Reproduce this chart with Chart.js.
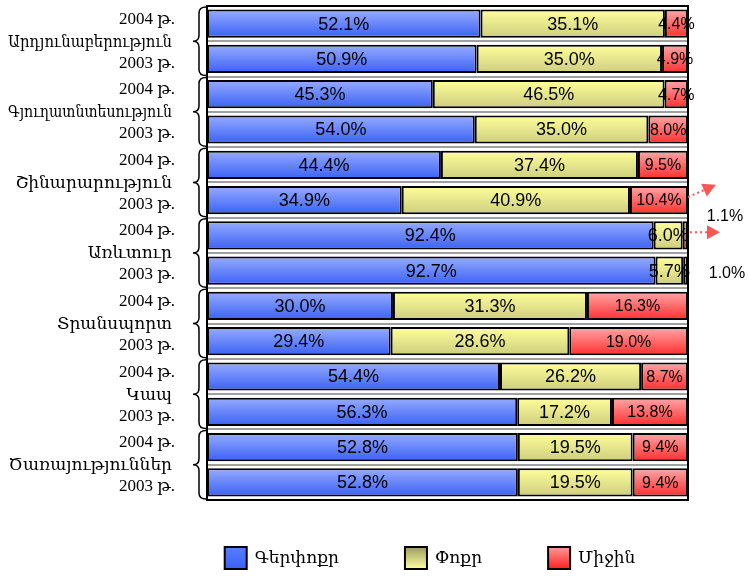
<!DOCTYPE html>
<html><head><meta charset="utf-8">
<script src="https://cdn.jsdelivr.net/npm/chart.js@4/dist/chart.umd.min.js"></script>
<style>html,body{margin:0;padding:0;background:#fff}#wrap{width:748px;height:576px;position:relative}</style>
</head><body><div id="wrap"><canvas id="c" width="748" height="576"></canvas></div>
<script>
// ---- data ----
const groups = ["Արդյունաբերություն", "Գյուղատնտեսություն", "Շինարարություն", "Առևտուր", "Տրանսպորտ", "Կապ", "Ծառայություններ"];
const years = ["2004 թ.", "2003 թ."];
const seriesNames = ["Գերփոքր", "Փոքր", "Միջին"];
const large  = [52.1, 50.9, 45.3, 54.0, 44.4, 34.9, 92.4, 92.7, 30.0, 29.4, 54.4, 56.3, 52.8, 52.8];
const small  = [35.1, 35.0, 46.5, 35.0, 37.4, 40.9, 6.0, 5.7, 31.3, 28.6, 26.2, 17.2, 19.5, 19.5];
const medium = [4.4, 4.9, 4.7, 8.0, 9.5, 10.4, 1.1, 1.0, 16.3, 19.0, 8.7, 13.8, 9.4, 9.4];
// rows whose tiny medium share is labelled outside the bar
const outsideRows = [6, 7];

const rowLabels = groups.flatMap(g => years.map(y => g + " " + y));
const totals = large.map((v, i) => v + small[i] + medium[i]);
const share = arr => arr.map((v, i) => v / totals[i] * 100);
const rawSeries = [large, small, medium];

const BAR_PCT = 0.8;
function grad(top, bottom) {
  return (ctx) => {
    const chart = ctx.chart, y = chart.scales.y;
    if (!y || ctx.type !== 'data' || !chart.chartArea) return bottom;
    const c = y.getPixelForValue(ctx.dataIndex);
    const h = (y.height / rowLabels.length) * BAR_PCT / 2;
    const g = chart.ctx.createLinearGradient(0, c - h, 0, c + h);
    g.addColorStop(0, top); g.addColorStop(1, bottom);
    return g;
  };
}
const palette = [
  ["#97acff", "#3a61f4"],
  ["#ffff9c", "#cdcd7e"],
  ["#ffa8a8", "#ff2e2e"]
];
const labelFonts = [18, 18, 16];
const SERIF = '"Liberation Serif", "DejaVu Serif", "Times New Roman", serif';

const decor = {
  id: 'decor',
  afterDatasetsDraw(chart) {
    const ctx = chart.ctx, ca = chart.chartArea, ys = chart.scales.y;
    const step = ys.height / rowLabels.length;
    ctx.save();
    // frame
    ctx.strokeStyle = '#000'; ctx.lineWidth = 2;
    ctx.strokeRect(ca.left, ca.top, ca.right - ca.left, ca.bottom - ca.top);
    // value labels
    ctx.fillStyle = '#000'; ctx.textAlign = 'center'; ctx.textBaseline = 'middle';
    chart.data.datasets.forEach((ds, di) => {
      const meta = chart.getDatasetMeta(di);
      ctx.font = labelFonts[di] + 'px "Liberation Sans", Arial, sans-serif';
      meta.data.forEach((el, i) => {
        const txt = rawSeries[di][i].toFixed(1) + '%';
        if (di === 2 && outsideRows.includes(i)) return;
        ctx.fillText(txt, (el.x + el.base) / 2, el.y + 1);
      });
    });
    // outside labels for tiny shares
    ctx.font = '16px "Liberation Sans", Arial, sans-serif';
    ctx.fillText(medium[outsideRows[0]].toFixed(1) + '%', ca.right + 37, ys.getPixelForValue(outsideRows[0]) - 19);
    ctx.fillText(medium[outsideRows[1]].toFixed(1) + '%', ca.right + 39, ys.getPixelForValue(outsideRows[1]) + 3);
    // dotted arrows
    function arrow(x1, y1, x2, y2) {
      ctx.strokeStyle = '#ff5555'; ctx.fillStyle = '#ff5555'; ctx.lineWidth = 2;
      ctx.setLineDash([2, 3]);
      ctx.beginPath(); ctx.moveTo(x1, y1); ctx.lineTo(x2, y2); ctx.stroke();
      ctx.setLineDash([]);
      const a = Math.atan2(y2 - y1, x2 - x1), L = 13, W = 7;
      ctx.beginPath();
      ctx.moveTo(x2 + Math.cos(a) * L, y2 + Math.sin(a) * L);
      ctx.lineTo(x2 - Math.sin(a) * W, y2 + Math.cos(a) * W);
      ctx.lineTo(x2 + Math.sin(a) * W, y2 - Math.cos(a) * W);
      ctx.closePath(); ctx.fill();
    }
    const yA = ys.getPixelForValue(outsideRows[0] - 1), yB = ys.getPixelForValue(outsideRows[0]);
    arrow(ca.right, yA - 3, ca.right + 16, yA - 10);
    arrow(ca.right + 2, yB - 3, ca.right + 19, yB - 3);
    // left labels + braces
    ctx.fillStyle = '#000'; ctx.strokeStyle = '#000'; ctx.lineWidth = 1.5;
    ctx.textAlign = 'right';
    ctx.font = '17px ' + SERIF;
    groups.forEach((g, gi) => {
      const p0 = ys.getPixelForValue(gi * 2), p1 = ys.getPixelForValue(gi * 2 + 1);
      const mid = (p0 + p1) / 2;
      ctx.fillText(years[0], 175, mid - 22);
      ctx.fillText(years[1], 175, mid + 22);
      ctx.fillText(g, 172, mid + 1, 164);
      const top = p0 - step / 2 + 1, bot = p1 + step / 2 - 1;
      const xr = ca.left - 1, xv = ca.left - 8, xt = ca.left - 14, r = 6;
      ctx.beginPath();
      ctx.moveTo(xr, top);
      ctx.quadraticCurveTo(xv, top, xv, top + r);
      ctx.lineTo(xv, mid - r);
      ctx.quadraticCurveTo(xv, mid, xt, mid);
      ctx.quadraticCurveTo(xv, mid, xv, mid + r);
      ctx.lineTo(xv, bot - r);
      ctx.quadraticCurveTo(xv, bot, xr, bot);
      ctx.stroke();
    });
    // legend
    ctx.font = '17px ' + SERIF;
    ctx.textAlign = 'left';
    const box = 22, gapIn = 8, gapOut = 66;
    const widths = seriesNames.map(n => box + gapIn + ctx.measureText(n).width);
    const total = widths.reduce((a, b) => a + b, 0) + gapOut * (widths.length - 1);
    let x = 430 - total / 2;
    const ly = 558;
    seriesNames.forEach((n, i) => {
      const gr = ctx.createLinearGradient(0, ly - box / 2, 0, ly + box / 2);
      const cols = i === 1 ? ["#9c9c5c", "#ffffa4"] : (i === 0 ? ["#5a7dff", "#3a61f4"] : ["#ff9a9a", "#ff1e1e"]);
      gr.addColorStop(0, cols[0]); gr.addColorStop(1, cols[1]);
      ctx.fillStyle = gr; ctx.fillRect(x, ly - box / 2, box, box);
      ctx.strokeStyle = '#000'; ctx.lineWidth = 2; ctx.strokeRect(x, ly - box / 2, box, box);
      ctx.fillStyle = '#000';
      ctx.fillText(n, x + box + gapIn, ly + 1);
      x += widths[i] + gapOut;
    });
    ctx.restore();
  }
};

new Chart(document.getElementById('c'), {
  type: 'bar',
  data: {
    labels: rowLabels,
    datasets: [large, small, medium].map((arr, i) => ({
      label: seriesNames[i],
      data: share(arr),
      backgroundColor: grad(palette[i][0], palette[i][1]),
      borderColor: '#000',
      borderWidth: 2,
      borderSkipped: false,
      categoryPercentage: 1,
      barPercentage: BAR_PCT
    }))
  },
  options: {
    indexAxis: 'y',
    responsive: false,
    animation: false,
    layout: { padding: { left: 207, right: 60, top: 6, bottom: 76 } },
    plugins: { legend: { display: false }, tooltip: { enabled: false } },
    scales: {
      x: { stacked: true, min: 0, max: 100, display: false },
      y: {
        stacked: true, display: true,
        ticks: { display: false },
        grid: { offset: true, color: '#a0a0a0', lineWidth: 2, drawTicks: false },
        border: { display: false }
      }
    }
  },
  plugins: [decor]
});
</script>
</body></html>
